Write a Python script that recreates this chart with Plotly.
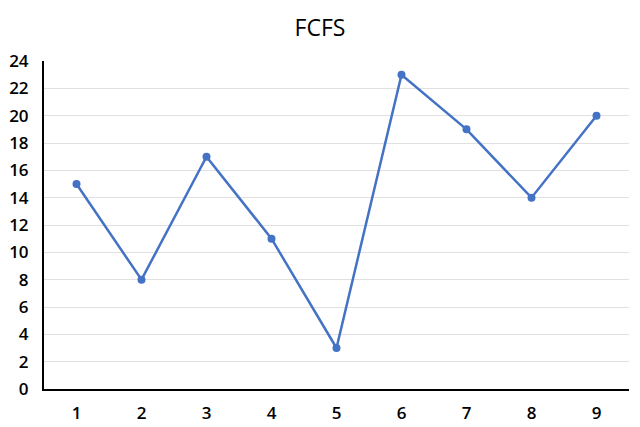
import plotly.graph_objects as go

categories = ["1", "2", "3", "4", "5", "6", "7", "8", "9"]
values = [15, 8, 17, 11, 3, 23, 19, 14, 20]
y_ticks = list(range(0, 25, 2))

fig = go.Figure(go.Scatter(
    x=categories, y=values, mode="lines+markers",
    line=dict(color="#4472C4", width=2.5),
    marker=dict(color="#4472C4", size=8),
))

fig.update_layout(
    width=640, height=427,
    margin=dict(l=44, r=11, t=61, b=38, autoexpand=False),
    paper_bgcolor="white", plot_bgcolor="white",
    title=dict(text="FCFS", x=0.5, xanchor="center", y=0.935, yanchor="middle",
               font=dict(family="Open Sans", size=23, color="black", weight=500)),
    font=dict(family="Open Sans", size=17, color="black"),
    showlegend=False,
)
fig.update_xaxes(type="category", range=[-0.5, 8.5], showline=True, linecolor="black",
                 linewidth=2, showgrid=False, ticks="", ticklabelstandoff=8, automargin=False,
                 tickfont=dict(family="Open Sans", size=17, weight=600))
fig.update_yaxes(range=[0, 24], tickvals=y_ticks, showline=True, linecolor="black",
                 linewidth=2, showgrid=True, gridcolor="#E0E0E0", gridwidth=1,
                 zeroline=False, ticks="", ticklabelstandoff=10, automargin=False,
                 tickfont=dict(family="Open Sans", size=17, weight=600))

fig.write_html("out.html", config={"displayModeBar": False},
               post_script="document.body.style.margin='0';document.body.style.overflow='hidden';")
